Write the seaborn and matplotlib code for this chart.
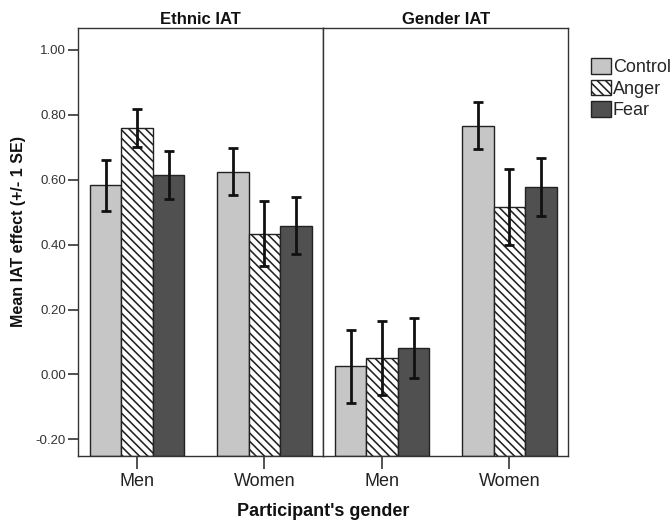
import matplotlib
matplotlib.use('Agg')
import matplotlib.pyplot as plt
import pandas as pd
import numpy as np
import seaborn as sns

panels = ['Ethnic IAT', 'Gender IAT']
genders = ['Men', 'Women']
conditions = ['Control', 'Anger', 'Fear']

# mean IAT effect, order: Men (Control, Anger, Fear), Women (Control, Anger, Fear)
ethnic_mean = [0.582, 0.758, 0.614, 0.625, 0.433, 0.458]
ethnic_se = [0.079, 0.058, 0.075, 0.071, 0.100, 0.088]
gender_mean = [0.025, 0.051, 0.082, 0.766, 0.515, 0.578]
gender_se = [0.112, 0.114, 0.092, 0.073, 0.117, 0.090]

colors = {'Control': '#c6c6c6', 'Anger': '#ffffff', 'Fear': '#505050'}

sns.set_style('white')
plt.rcParams['font.family'] = ['Liberation Sans', 'DejaVu Sans']
plt.rcParams['hatch.linewidth'] = 1.15

# tidy table built from the lists above
rows = []
for panel, means, ses in [(panels[0], ethnic_mean, ethnic_se), (panels[1], gender_mean, gender_se)]:
    k = 0
    for g in genders:
        for c in conditions:
            rows.append({'panel': panel, 'gender': g, 'condition': c,
                         'mean': means[k], 'se': ses[k]})
            k += 1
df = pd.DataFrame(rows)

ybot, ytop = -0.251, 1.066

fig = plt.figure(figsize=(6.72, 5.24), dpi=100)
W, H = 672, 524
left, mid, right = 78.3, 323.3, 568.3
bot, top = 456, 28.3
ax1 = fig.add_axes([left / W, 1 - bot / H, (mid - left) / W, (bot - top) / H])
ax2 = fig.add_axes([mid / W, 1 - bot / H, (right - mid) / W, (bot - top) / H])

handles = None
for ax, panel in zip([ax1, ax2], panels):
    sub = df[df.panel == panel]
    sns.barplot(data=sub, x='gender', y='mean', hue='condition', order=genders,
                hue_order=conditions, palette=colors, errorbar=None, width=0.74,
                edgecolor='#222222', linewidth=1.0, legend=False, ax=ax)
    bars = list(ax.containers)
    if handles is None:
        handles = [b.patches[0] for b in bars]
    # bars start at the bottom of the axis (SPSS style) + error bars
    for cont, c in zip(bars, conditions):
        for patch, g in zip(cont.patches, genders):
            r = sub[(sub.gender == g) & (sub.condition == c)].iloc[0]
            h = patch.get_height()
            patch.set_y(ybot)
            patch.set_height(h - ybot)
            if c == 'Anger':
                patch.set_hatch('\\\\\\\\')
            ax.errorbar(patch.get_x() + patch.get_width() / 2, r['mean'], yerr=r['se'],
                        color='#111111', elinewidth=2, capsize=3.5, capthick=2, zorder=5)
    ax.set_ylim(ybot, ytop)
    ax.set_xlim(-0.462, 1.462)
    ax.set_title(panel, fontsize=12, fontweight='bold', pad=3, color='#111111')
    ax.set_xlabel('')
    ax.set_ylabel('')
    for s in ax.spines.values():
        s.set_visible(True)
        s.set_color('#333333')
        s.set_linewidth(1.0)
    ax.tick_params(axis='x', bottom=True, length=9, width=1.2, color='#333333',
                   labelsize=13, labelcolor='#222222', pad=3)
    ax.set_facecolor('white')

ax1.set_yticks(np.arange(-0.2, 1.01, 0.2))
ax1.set_yticklabels(['%.2f' % v for v in np.arange(-0.2, 1.01, 0.2)])
ax1.tick_params(axis='y', left=True, length=7, width=1.2, color='#333333',
                labelsize=9.5, labelcolor='#333333', pad=2)
ax2.set_yticks([])
ax1.set_ylabel('Mean IAT effect (+/- 1 SE)', fontsize=11.5, fontweight='bold',
               color='#111111')
ax1.yaxis.set_label_coords(-0.215, 0.526)
fig.text(mid / W, 1 - 511 / H, "Participant's gender", ha='center', va='center',
         fontsize=13, fontweight='bold', color='#111111')

fig.legend(handles, conditions, loc='upper left', bbox_to_anchor=(591 / W, 1 - 58 / H),
           frameon=False, fontsize=13, handlelength=1.1, handleheight=0.95,
           handletextpad=0.1, labelspacing=0.2, borderpad=0, borderaxespad=0)

fig.savefig('out.png', dpi=100, facecolor='white')
